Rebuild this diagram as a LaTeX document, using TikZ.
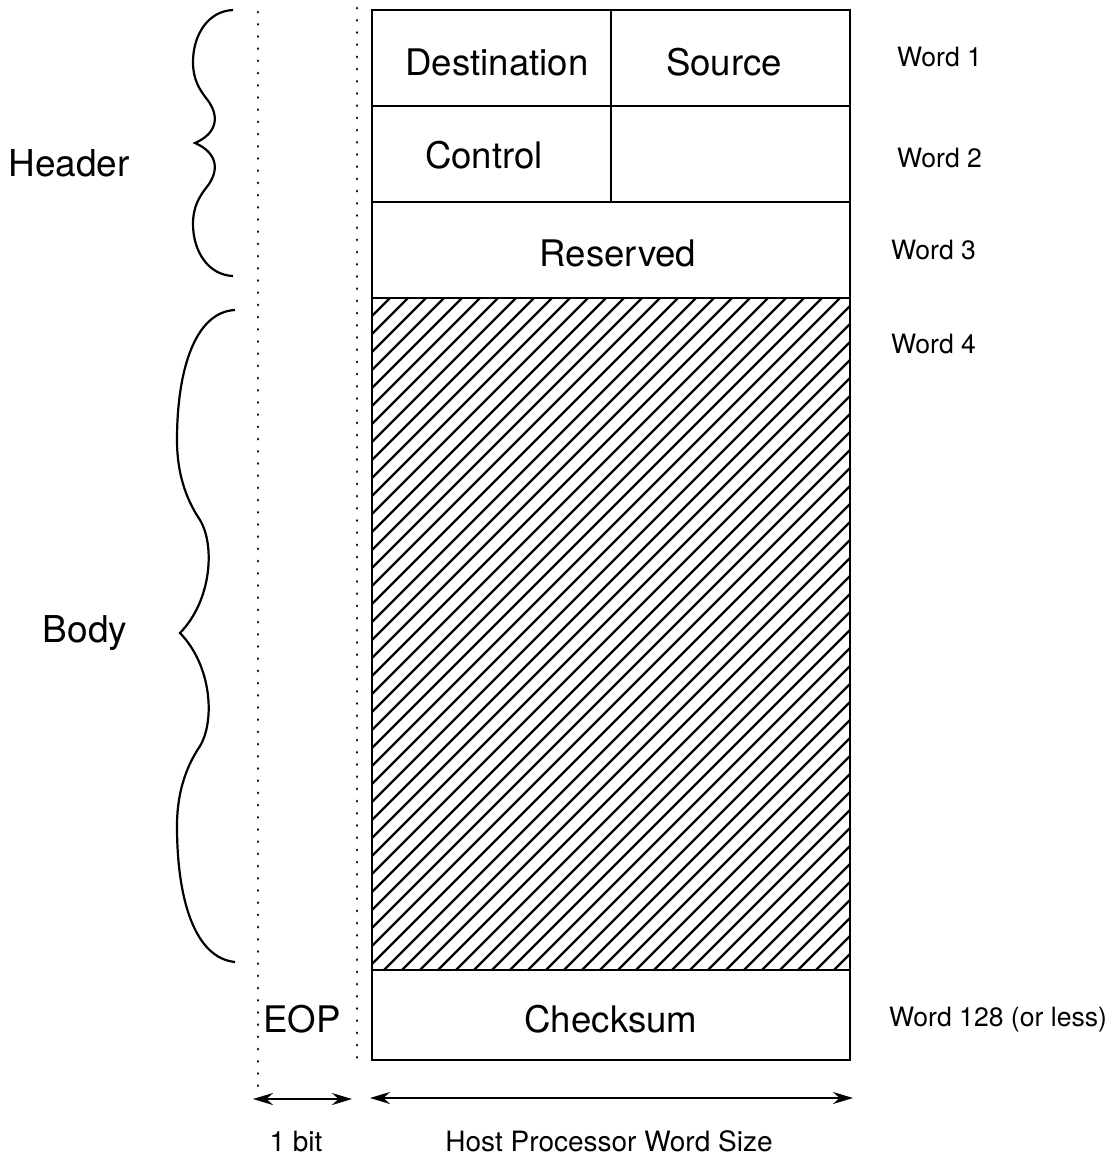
\documentclass[tikz,border=0pt]{standalone}
\usepackage{fontspec}
\setmainfont{TeX Gyre Heros}
\usetikzlibrary{arrows.meta, positioning}

\begin{document}
\begin{tikzpicture}[x=0.5pt, y=-0.5pt,
    frame/.style={draw=black, line width=1.4pt},
    hatch/.style={line width=1.1pt},
    field/.style={font=\fontsize{18.3}{21}\selectfont},
    word/.style={anchor=west, font=\fontsize{13.3}{16}\selectfont},
    side/.style={font=\fontsize{18.5}{22}\selectfont},
    size/.style={font=\fontsize{14}{17}\selectfont},
    brace/.style={line width=1.1pt},
    guide/.style={line width=1.4pt, dash pattern=on 0.1pt off 6pt, line cap=round},
    arrow/.style={{Stealth[length=10pt,width=6pt]}-{Stealth[length=10pt,width=6pt]}, line width=1.1pt}
]
\useasboundingbox (0,0) rectangle (1113,1158);

% packet words
\draw[frame] (372,10) rectangle (850,298);
\draw[frame] (372,106) -- (850,106);
\draw[frame] (372,202) -- (850,202);
\draw[frame] (611,10) -- (611,202);

% body area
\begin{scope}
  \clip (372,298) rectangle (850,970);
  \foreach \k in {0,...,64}
    \draw[hatch] ({-300+18*\k},970) -- ++(672,-672);
\end{scope}
\draw[frame] (372,298) rectangle (850,970);
\draw[frame] (372,970) rectangle (850,1060);

\node[field] (dest) at (497,62) {Destination};
\node[field] (src) at (724,62) {Source};
\node[field] (ctrl) at (484,155) {Control};
\node[field] (resv) at (618,253) {Reserved};
\node[field] (csum) at (611,1019) {Checksum};
\node[field] (eop) at (302,1019) {EOP};

\node[word] (w1) at (890,57) {Word 1};
\node[word] (w2) at (890,158) {Word 2};
\node[word] (w3) at (884,250) {Word 3};
\node[word] (w4) at (884,344) {Word 4};
\node[word] (wlast) at (882,1020) {Word 128 (or less)};

% EOP bit column
\draw[guide] (258,12) -- (258,1090);
\draw[guide] (357,8) -- (357,1068);

% braces
\draw[brace] (233,10) .. controls (208,11) and (193,35) .. (193,62)
  .. controls (193,80) and (200,90) .. (206,98)
  .. controls (220,115) and (218,133) .. (195,143)
  .. controls (218,153) and (220,171) .. (206,188)
  .. controls (200,196) and (193,206) .. (193,224)
  .. controls (193,251) and (208,275) .. (233,276);
\draw[brace] (235,310) .. controls (195,312) and (177,370) .. (177,440)
  .. controls (177,480) and (190,505) .. (200,520)
  .. controls (215,545) and (212,600) .. (180,633)
  .. controls (212,666) and (215,721) .. (200,746)
  .. controls (190,761) and (177,786) .. (177,826)
  .. controls (177,900) and (195,958) .. (235,962);

\node[side] (hdr) at (69,163) {Header};
\node[side] (body) at (85,633) {Body};

% widths
\coordinate (bitL) at (253,1099);
\coordinate (bitR) at (352,1099);
\coordinate (hostL) at (370,1098);
\coordinate (hostR) at (853,1098);
\draw[arrow] (bitL) -- (bitR);
\draw[arrow] (hostL) -- (hostR);

\node[size] (bit) at (296,1141) {1 bit};
\node[size] (host) at (609,1141) {Host Processor Word Size};
\end{tikzpicture}
\end{document}
